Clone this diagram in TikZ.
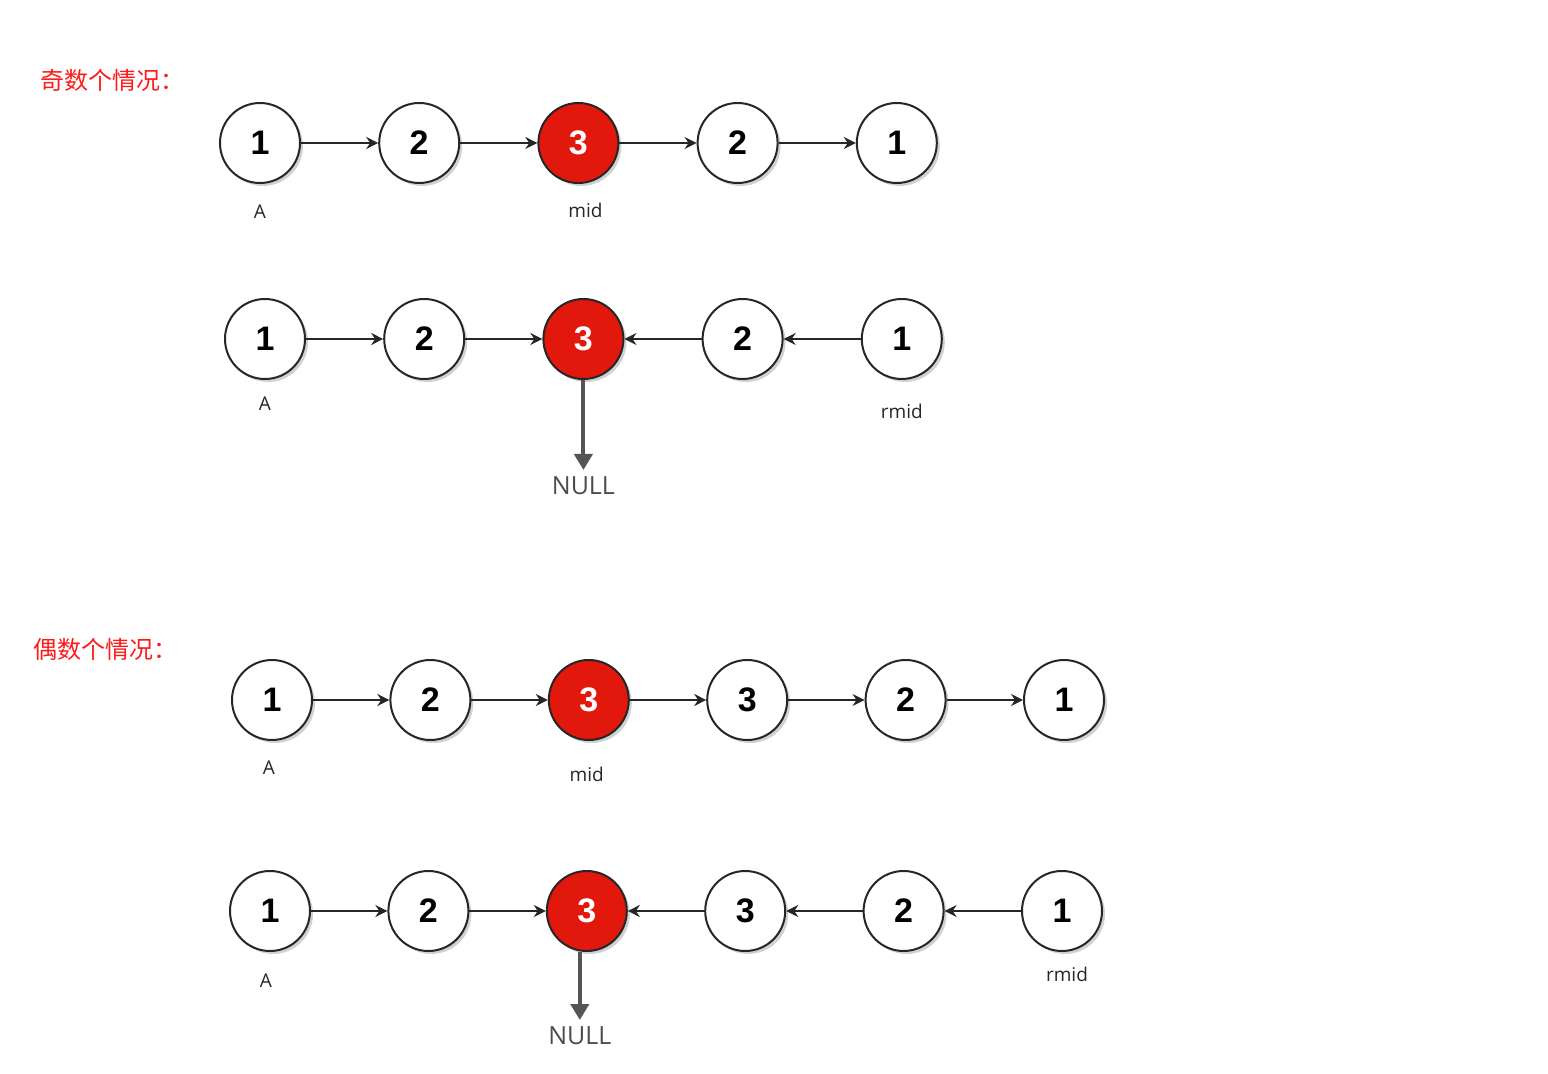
\documentclass[tikz,border=0pt]{standalone}
\usepackage{fontspec}
\setmainfont{Open Sans}
\newfontfamily\digitfont{Liberation Sans}
\newfontfamily\cjk{Noto Sans CJK SC}
\usetikzlibrary{arrows.meta, positioning, shadows}
\definecolor{midred}{HTML}{E2180C}
\definecolor{headred}{HTML}{FF1A1A}
\definecolor{nullgray}{HTML}{555555}
\tikzset{
  listnode/.style={circle, draw=black!85, line width=1pt, fill=white, minimum size=40pt, inner sep=0pt, font=\digitfont\bfseries\fontsize{17}{20}\selectfont, drop shadow={shadow xshift=1.5pt, shadow yshift=-1.5pt, opacity=0.3, fill=black!60}},
  rednode/.style={listnode, fill=midred, text=white},
  pointer/.style={font=\fontsize{9.5}{11}\selectfont, text=black!85},
  heading/.style={anchor=west, text=headred, font=\cjk\fontsize{12}{14}\selectfont},
  nulltag/.style={font=\fontsize{12.5}{15}\selectfont, text=black!70},
  link/.style={-{Stealth[length=6pt, width=6pt]}, line width=1pt, draw=black!85},
  tonull/.style={-{Triangle[length=8pt, width=9pt]}, line width=2pt, draw=nullgray},
}

\begin{document}
\begin{tikzpicture}[x=0.5pt, y=-0.5pt, node distance=38.6pt]
\useasboundingbox (0,0) rectangle (1548,1074);
\node[heading] (odd) at (33,80) {奇数个情况：};
\node[listnode] (a1) at (260,143) {1};
\node[listnode, right=of a1] (a2) {2};
\node[rednode, right=of a2] (a3) {3};
\node[listnode, right=of a3] (a4) {2};
\node[listnode, right=of a4] (a5) {1};
\node[pointer, below=7pt of a1] (aA) {A};
\node[pointer, below=6pt of a3, xshift=3.5pt] (amid) {mid};

\draw[link] (a1) -- (a2);
\draw[link] (a2) -- (a3);
\draw[link] (a3) -- (a4);
\draw[link] (a4) -- (a5);

\node[listnode] (b1) at (265,339) {1};
\node[listnode, right=of b1] (b2) {2};
\node[rednode, right=of b2] (b3) {3};
\node[listnode, right=of b3] (b4) {2};
\node[listnode, right=of b4] (b5) {1};
\node[pointer, below=5pt of b1] (bA) {A};
\node[pointer, below=8.5pt of b5] (brmid) {rmid};
\node[nulltag, below=45pt of b3] (bnull) {NULL};

\draw[link] (b1) -- (b2);
\draw[link] (b2) -- (b3);
\draw[link] (b4) -- (b3);
\draw[link] (b5) -- (b4);
\draw[tonull] (b3) -- (bnull);

\node[heading] (even) at (26,649) {偶数个情况：};
\node[listnode] (c1) at (272,700) {1};
\node[listnode, right=38.2pt of c1] (c2) {2};
\node[rednode, right=38.2pt of c2] (c3) {3};
\node[listnode, right=38.2pt of c3] (c4) {3};
\node[listnode, right=38.2pt of c4] (c5) {2};
\node[listnode, right=38.2pt of c5] (c6) {1};
\node[pointer, below=6.5pt of c1, xshift=-1.5pt] (cA) {A};
\node[pointer, below=9.5pt of c3, xshift=-1pt] (cmid) {mid};

\draw[link] (c1) -- (c2);
\draw[link] (c2) -- (c3);
\draw[link] (c3) -- (c4);
\draw[link] (c4) -- (c5);
\draw[link] (c5) -- (c6);

\node[listnode] (d1) at (270,911) {1};
\node[listnode, right=38.2pt of d1] (d2) {2};
\node[rednode, right=38.2pt of d2] (d3) {3};
\node[listnode, right=38.2pt of d3] (d4) {3};
\node[listnode, right=38.2pt of d4] (d5) {2};
\node[listnode, right=38.2pt of d5] (d6) {1};
\node[pointer, below=7.5pt of d1, xshift=-2pt] (dA) {A};
\node[pointer, below=4pt of d6, xshift=2.5pt] (drmid) {rmid};
\node[nulltag, below=34pt of d3, xshift=-3.5pt] (dnull) {NULL};

\draw[link] (d1) -- (d2);
\draw[link] (d2) -- (d3);
\draw[link] (d4) -- (d3);
\draw[link] (d5) -- (d4);
\draw[link] (d6) -- (d5);
\draw[tonull] ([xshift=-3.5pt]d3.south) -- (dnull);
\end{tikzpicture}
\end{document}
